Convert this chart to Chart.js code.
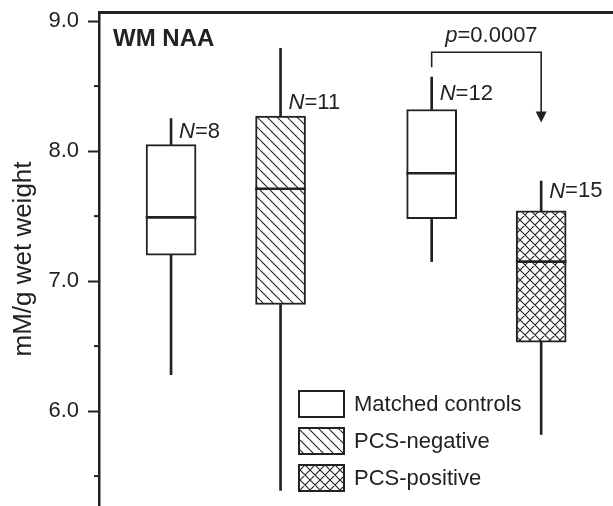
<!DOCTYPE html>
<html lang="en">
<head>
  <meta charset="UTF-8" />
  <title>WM NAA box plot</title>
  <style>
    body { margin: 0; background: #fff; overflow: hidden; }
    .chart-wrap { width: 613px; height: 506px; position: relative; }
  </style>
</head>
<body>
  <div class="chart-wrap"><canvas id="naaChart"></canvas></div>
  <script src="https://cdn.jsdelivr.net/npm/chart.js"></script>
  <script>
    // groups, in plotting order
    const groups = ["Matched controls", "PCS-negative", "Matched controls", "PCS-positive"];
    const xPos = [1, 2, 3.38, 4.38];
    // box statistics (mM/g wet weight)
    const whiskerLow  = [6.28, 5.39, 7.15, 5.82];
    const q1          = [7.20, 6.82, 7.48, 6.53];
    const median      = [7.49, 7.71, 7.83, 7.15];
    const q3          = [8.05, 8.27, 8.32, 7.54];
    const whiskerHigh = [8.25, 8.79, 8.57, 7.77];
    // N labels
    const nCounts = [8, 11, 12, 15];
    const nLabelY = [8.15, 8.37, 8.44, 7.69];
    // axis ticks
    const yMajorTicks = [6.0, 7.0, 8.0, 9.0];
    const yMinorTicks = [5.5, 6.5, 7.5, 8.5];
    // significance bracket between box 3 and box 4
    const pText = "0.0007";
    const bracketTopY = 8.76;
    const bracketLeftEndY = 8.645;
    const arrowTipY = 8.22;
    const pLabelY = 8.885;
    const legendItems = ["Matched controls", "PCS-negative", "PCS-positive"];

    const INK = "#222";
    const FONT = "'Liberation Sans', Arial, sans-serif";
    const MEDIAN_HALF = 0.0075; // half the median stroke, in axis units (~1px)

    const canvas = document.getElementById("naaChart");
    const mainCtx = canvas.getContext("2d");

    function makePattern(kind) {
      const s = 10;
      const c = document.createElement("canvas");
      c.width = s; c.height = s;
      const g = c.getContext("2d");
      g.fillStyle = "#fff";
      g.fillRect(0, 0, s, s);
      g.strokeStyle = INK;
      g.lineWidth = 1.1;
      g.beginPath();
      for (let k = -1; k <= 1; k++) { g.moveTo(k * s, 0); g.lineTo(k * s + s, s); }
      if (kind === "cross") {
        for (let k = -1; k <= 1; k++) { g.moveTo(k * s + s, 0); g.lineTo(k * s, s); }
      }
      g.stroke();
      return mainCtx.createPattern(c, "repeat");
    }

    const fills = {
      "Matched controls": "#fff",
      "PCS-negative": makePattern("diag"),
      "PCS-positive": makePattern("cross")
    };
    const boxFills = groups.map(g => fills[g]);

    const pts = (lo, hi) => xPos.map((x, i) => ({ x: x, y: [lo[i], hi[i]] }));

    // minor ticks, N labels, p bracket, panel title and legend
    const extras = {
      id: "extras",
      afterDraw(chart) {
        const { ctx, chartArea, scales: { x, y } } = chart;
        ctx.save();
        ctx.strokeStyle = INK;
        ctx.fillStyle = INK;

        ctx.lineWidth = 2;
        yMinorTicks.forEach(v => {
          const py = y.getPixelForValue(v);
          ctx.beginPath();
          ctx.moveTo(chartArea.left - 5, py);
          ctx.lineTo(chartArea.left, py);
          ctx.stroke();
        });

        ctx.textBaseline = "middle";
        ctx.textAlign = "left";
        nCounts.forEach((n, i) => {
          let px = x.getPixelForValue(xPos[i]) + 8;
          const py = y.getPixelForValue(nLabelY[i]);
          ctx.font = "italic 22px " + FONT;
          ctx.fillText("N", px, py);
          px += ctx.measureText("N").width;
          ctx.font = "22px " + FONT;
          ctx.fillText("=" + n, px, py);
        });

        // bracket with arrow
        const xl = x.getPixelForValue(xPos[2]);
        const xr = x.getPixelForValue(xPos[3]);
        const yt = y.getPixelForValue(bracketTopY);
        const yl = y.getPixelForValue(bracketLeftEndY);
        const ya = y.getPixelForValue(arrowTipY);
        ctx.lineWidth = 1.6;
        ctx.beginPath();
        ctx.moveTo(xl, yl);
        ctx.lineTo(xl, yt);
        ctx.lineTo(xr, yt);
        ctx.lineTo(xr, ya - 10);
        ctx.stroke();
        ctx.beginPath();
        ctx.moveTo(xr - 5.5, ya - 11);
        ctx.lineTo(xr + 5.5, ya - 11);
        ctx.lineTo(xr, ya);
        ctx.closePath();
        ctx.fill();

        ctx.font = "italic 22px " + FONT;
        const pw = ctx.measureText("p").width;
        ctx.font = "22px " + FONT;
        const rest = "=" + pText;
        const tw = pw + ctx.measureText(rest).width;
        const tx = (xl + xr) / 2 + 5 - tw / 2;
        const ty = y.getPixelForValue(pLabelY);
        ctx.font = "italic 22px " + FONT;
        ctx.fillText("p", tx, ty);
        ctx.font = "22px " + FONT;
        ctx.fillText(rest, tx + pw, ty);

        ctx.font = "bold 24px " + FONT;
        ctx.fillText("WM NAA", chartArea.left + 14, chartArea.top + 27);

        // legend
        const lx = 299, ly = 391, bw = 45, bh = 26, step = 37;
        ctx.lineWidth = 2;
        ctx.font = "22px " + FONT;
        legendItems.forEach((name, i) => {
          const top = ly + i * step;
          ctx.fillStyle = fills[name];
          ctx.fillRect(lx, top, bw, bh);
          ctx.strokeRect(lx, top, bw, bh);
          ctx.fillStyle = INK;
          ctx.fillText(name, lx + 55, top + bh / 2 + 1);
        });
        ctx.restore();
      }
    };

    new Chart(mainCtx, {
      type: "bar",
      data: {
        datasets: [
          {
            // median stroke
            data: xPos.map((x, i) => ({ x: x, y: [median[i] - MEDIAN_HALF, median[i] + MEDIAN_HALF] })),
            backgroundColor: INK,
            borderWidth: 0,
            barThickness: 50,
            order: 0
          },
          {
            data: pts(q1, q3),
            backgroundColor: boxFills,
            borderColor: INK,
            borderWidth: 2,
            borderSkipped: false,
            barThickness: 50,
            order: 1
          },
          {
            data: pts(whiskerLow, q1),
            backgroundColor: INK,
            borderWidth: 0,
            barThickness: 2,
            order: 2
          },
          {
            data: pts(q3, whiskerHigh),
            backgroundColor: INK,
            borderWidth: 0,
            barThickness: 2,
            order: 2
          }
        ]
      },
      options: {
        responsive: true,
        maintainAspectRatio: false,
        animation: false,
        events: [],
        layout: { padding: 0 },
        datasets: { bar: { grouped: false } },
        scales: {
          x: {
            type: "linear",
            position: "top",
            min: 0.342,
            max: 5.036,
            offset: false,
            ticks: { display: false },
            grid: { display: false, offset: false },
            border: { display: true, width: 3, color: INK },
            afterFit: s => { s.height = 12; }
          },
          y: {
            min: 5.27,
            max: 9.07,
            afterBuildTicks: s => { s.ticks = yMinorTicks.concat(yMajorTicks).sort().map(v => ({ value: v })); },
            afterFit: s => { s.width = 99; s.paddingTop = 0; s.paddingBottom = 0; },
            ticks: {
              autoSkip: false,
              color: INK,
              padding: 9,
              font: { family: FONT, size: 22 },
              callback: v => (yMajorTicks.includes(v) ? v.toFixed(1) : "")
            },
            grid: {
              drawOnChartArea: false,
              drawTicks: true,
              tickLength: 11,
              tickWidth: 2,
              tickColor: c => (c.tick && yMajorTicks.includes(c.tick.value) ? INK : "rgba(0,0,0,0)")
            },
            border: { display: true, width: 2.5, color: INK },
            title: {
              display: true,
              text: "mM/g wet weight",
              color: INK,
              font: { family: FONT, size: 26 },
              padding: { top: 8, bottom: 0 }
            }
          }
        },
        plugins: {
          legend: { display: false },
          tooltip: { enabled: false }
        }
      },
      plugins: [extras]
    });
  </script>
</body>
</html>
